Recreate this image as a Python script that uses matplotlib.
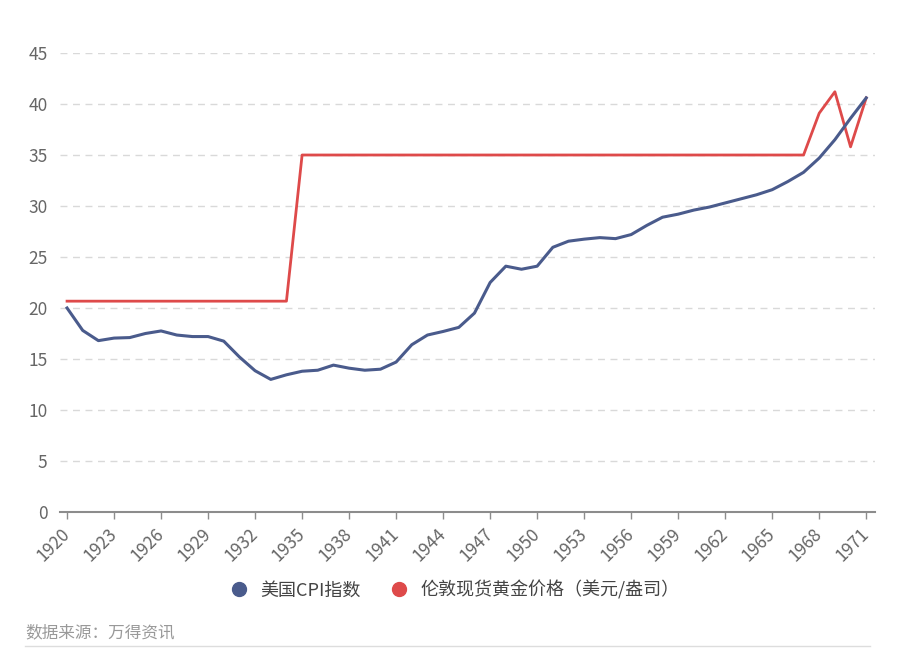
import numpy as np
import matplotlib.pyplot as plt
import matplotlib.transforms as mtrans
from matplotlib.lines import Line2D

plt.rcParams['font.family'] = ['Noto Sans CJK SC', 'DejaVu Sans']

years = list(range(1920, 1972))

cpi = [20.0, 17.8, 16.8, 17.05, 17.1, 17.5, 17.75, 17.35, 17.2, 17.2,
       16.75, 15.2, 13.85, 13.0, 13.45, 13.8, 13.9, 14.4, 14.1, 13.9,
       14.0, 14.7, 16.4, 17.35, 17.7, 18.1, 19.5, 22.5, 24.1, 23.8,
       24.1, 25.95, 26.55, 26.75, 26.9, 26.8, 27.2, 28.1, 28.9, 29.2,
       29.6, 29.9, 30.3, 30.7, 31.1, 31.6, 32.4, 33.3, 34.7, 36.5,
       38.6, 40.6]

gold = [20.67] * 15 + [35.0] * 33 + [39.1, 41.2, 35.8, 40.6]

xticks = years[::3]
yticks = list(range(0, 50, 5))

cpi_label = "美国CPI指数"
gold_label = "伦敦现货黄金价格（美元/盎司）"
source = "数据来源：万得资讯"

blue = '#4a5b8c'
red = '#de4a4a'

fig = plt.figure(figsize=(9, 6.49), dpi=100)
ax = fig.add_axes([60 / 900, 1 - 512 / 649, 815 / 900, (512 - 53) / 649])

ax.plot(years, gold, color=red, lw=2.0, zorder=3)
ax.plot(years, cpi, color=blue, lw=2.2, zorder=4)

ax.set_xlim(1919.55, 1971.56)
ax.set_ylim(0, 45)
ax.set_yticks(yticks)
ax.set_xticks(xticks)
ax.set_xticklabels([str(y) for y in xticks], rotation=45, ha='right',
                   va='center', rotation_mode='anchor')

# shift the rotated year labels so their ends sit just right of the ticks
shift = mtrans.ScaledTranslation(8 / 100, 0, fig.dpi_scale_trans)
for lbl in ax.get_xticklabels():
    lbl.set_transform(lbl.get_transform() + shift)

for y in yticks[1:]:
    ax.axhline(y, color='#d9d9d9', lw=1, ls=(0, (5, 4)), zorder=1)

for s in ['top', 'right', 'left']:
    ax.spines[s].set_visible(False)
ax.spines['bottom'].set_color('#8c8c8c')
ax.spines['bottom'].set_linewidth(1.5)

ax.tick_params(axis='y', length=0, labelsize=12.5, labelcolor='#666666', pad=9)
ax.tick_params(axis='x', length=5, width=1, color='#8c8c8c', direction='out',
               labelsize=12.5, labelcolor='#666666', pad=9)

handles = [Line2D([], [], marker='o', ls='', color=blue, markersize=10),
           Line2D([], [], marker='o', ls='', color=red, markersize=10)]
fig.legend(handles, [cpi_label, gold_label], loc='center',
           bbox_to_anchor=(450 / 900, 1 - 590 / 649), ncol=2, frameon=False,
           fontsize=13, handletextpad=0.2, columnspacing=1.1,
           labelcolor='#444444')

fig.text(25 / 900, 1 - 633 / 649, source, fontsize=12, color='#999999',
         va='center')
fig.add_artist(Line2D([25 / 900, 870 / 900], [1 - 646 / 649, 1 - 646 / 649],
                      color='#dddddd', lw=1))

fig.savefig('out.png', dpi=100)
